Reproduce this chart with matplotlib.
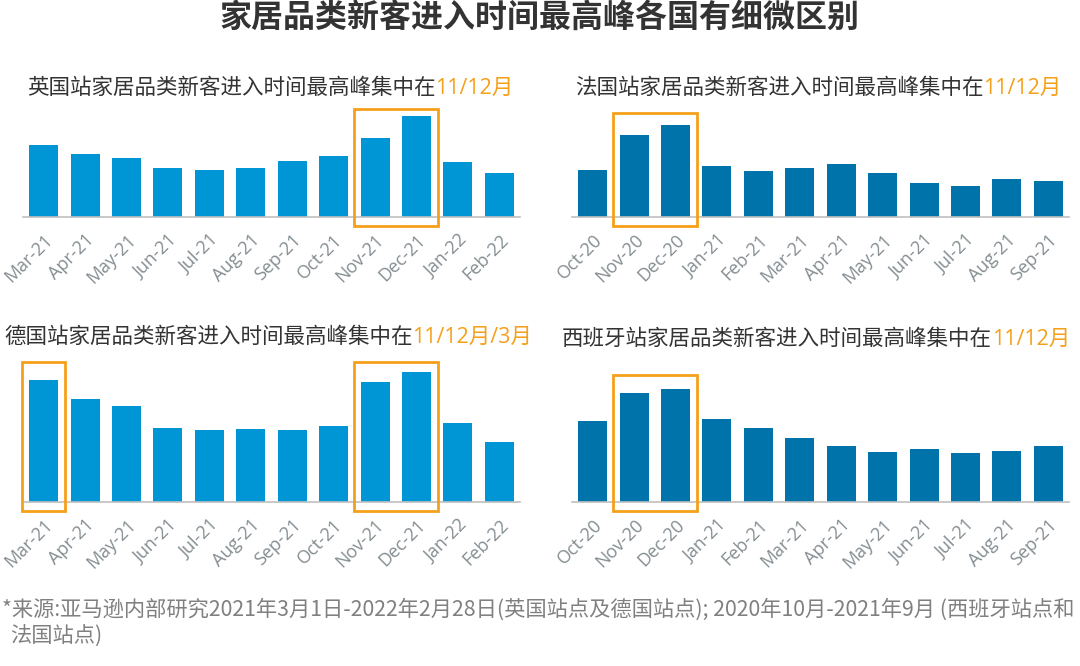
import numpy as np
import matplotlib
matplotlib.use('Agg')
import matplotlib.pyplot as plt
from matplotlib.patches import Rectangle

plt.rcParams['font.family'] = ['Noto Sans CJK SC', 'DejaVu Sans']

## Dados (alturas, unidade arbitrária)
months_a = ['Mar-21', 'Apr-21', 'May-21', 'Jun-21', 'Jul-21', 'Aug-21',
            'Sep-21', 'Oct-21', 'Nov-21', 'Dec-21', 'Jan-22', 'Feb-22']
months_b = ['Oct-20', 'Nov-20', 'Dec-20', 'Jan-21', 'Feb-21', 'Mar-21',
            'Apr-21', 'May-21', 'Jun-21', 'Jul-21', 'Aug-21', 'Sep-21']
uk = [72.3, 63, 59, 49.3, 47, 49.3, 56.3, 61, 79, 101, 54.7, 43.7]
fr = [47, 82, 92, 51.6, 46, 49.3, 53, 44.3, 34.6, 31.6, 38.3, 36]
de = [121.7, 103.3, 95.7, 74, 72, 73.3, 72, 76.3, 120, 129.7, 79, 60]
es = [81.3, 109, 113, 82.7, 73.7, 64, 56.3, 50, 53.3, 49, 50.7, 55.7]

uk_title = ['英国站家居品类新客进入时间最高峰集中在', '11/12月']
fr_title = ['法国站家居品类新客进入时间最高峰集中在', '11/12月']
de_title = ['德国站家居品类新客进入时间最高峰集中在', '11/12月/3月']
es_title = ['西班牙站家居品类新客进入时间最高峰集中在', '11/12月']

uk_boxes = [(8, 9)]
fr_boxes = [(1, 2)]
de_boxes = [(0, 0), (8, 9)]
es_boxes = [(1, 2)]

## Cores
BLUE_L = '#0096D6'
BLUE_D = '#0073AA'
ORANGE = '#F5A01A'
DARK = '#333333'
GRAY = '#848D91'

W, H = 1080, 666
fig = plt.figure(figsize=(W / 100, H / 100), dpi=100)

def px_axes(left, right, top, bottom):
    return fig.add_axes([left / W, 1 - bottom / H, (right - left) / W, (bottom - top) / H])

def painel(ax_px, vals, labels, color, boxes, box_top, title, title_xy):
    left, right, top, bottom = ax_px
    ax = px_axes(left, right, top, bottom)
    x = np.arange(len(vals))
    ax.bar(x, vals, width=0.7, color=color, zorder=2)
    ax.set_xlim(-0.5, 11.5)
    ax.set_ylim(0, bottom - top)
    for s in ['top', 'right', 'left']:
        ax.spines[s].set_visible(False)
    ax.spines['bottom'].set_color('#C0C0C0')
    ax.spines['bottom'].set_linewidth(1.2)
    ax.set_yticks([])
    ax.set_xticks(x)
    ax.set_xticklabels(labels, rotation=45, ha='right', va='top',
                       rotation_mode='anchor', color=GRAY, fontsize=13,
                       family=['Open Sans', 'DejaVu Sans'])
    ax.tick_params(axis='x', length=0, pad=10)
    for i0, i1 in boxes:
        r = Rectangle((i0 - 0.52, -9), i1 - i0 + 1.04, box_top + 9,
                      fill=False, edgecolor=ORANGE, lw=2, clip_on=False, zorder=3)
        ax.add_patch(r)
    tx, ty = title_xy
    t1 = fig.text(tx / W, 1 - ty / H, title[0], fontsize=15.5, color=DARK,
                  ha='left', va='center')
    ax.annotate(title[1], xy=(1, 0), xycoords=t1, ha='left', va='bottom',
                fontsize=15.5, color=ORANGE, annotation_clip=False,
                family=['Open Sans', 'Noto Sans CJK SC'])
    return ax

painel((23, 520, 100, 217), uk, months_a, BLUE_L, uk_boxes, 108, uk_title, (27, 88))
painel((572, 1069, 100, 217.3), fr, months_b, BLUE_D, fr_boxes, 104.6, fr_title, (575, 88))
painel((23, 520, 360, 502), de, months_a, BLUE_L, de_boxes, 140, de_title, (4, 337))
painel((572, 1069, 360, 502), es, months_b, BLUE_D, es_boxes, 127.3, es_title, (562, 339))

fig.text(0.5, 1 - 18 / H, '家居品类新客进入时间最高峰各国有细微区别', fontsize=23,
         weight='bold', color=DARK, ha='center', va='center')

fig.text(2 / W, 1 - 610 / H,
         '*来源:亚马逊内部研究2021年3月1日-2022年2月28日(英国站点及德国站点); 2020年10月-2021年9月 (西班牙站点和',
         fontsize=15.3, color='#808080', ha='left', va='center')
fig.text(10 / W, 1 - 636 / H, '法国站点)', fontsize=15.3, color='#808080',
         ha='left', va='center')

plt.savefig('out.png', dpi=100)
